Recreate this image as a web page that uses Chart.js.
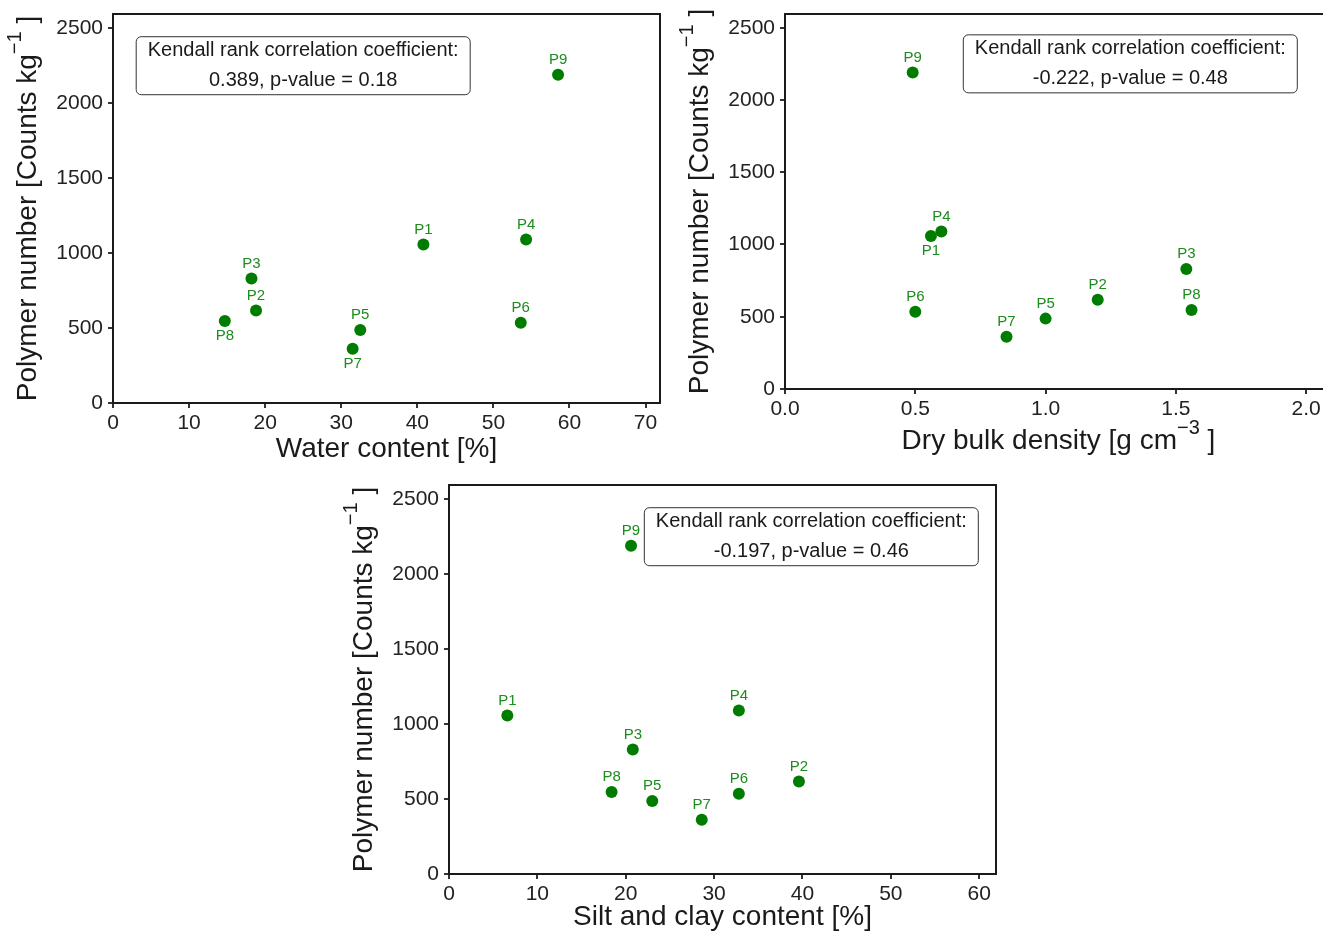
<!DOCTYPE html>
<html>
<head>
<meta charset="utf-8">
<script src="https://cdn.jsdelivr.net/npm/chart.js@4.4.1/dist/chart.umd.min.js"></script>
<style>
  html, body { margin: 0; padding: 0; background: #fff; overflow: hidden; }
  body { width: 1323px; height: 931px; position: relative; }
  .panel { position: absolute; }
</style>
</head>
<body>
<div class="panel" style="left:0;top:0"><canvas id="water" width="670" height="470"></canvas></div>
<div class="panel" style="left:672px;top:0"><canvas id="density" width="670" height="470"></canvas></div>
<div class="panel" style="left:336px;top:471px"><canvas id="silt" width="670" height="460"></canvas></div>
<script>
const sites = ['P1', 'P2', 'P3', 'P4', 'P5', 'P6', 'P7', 'P8', 'P9'];
const polymerCount = [1058, 617, 830, 1090, 487, 535, 362, 547, 2190];
const waterContent = [40.8, 18.8, 18.2, 54.3, 32.5, 53.6, 31.5, 14.7, 58.5];
const bulkDensity = [0.56, 1.20, 1.54, 0.60, 1.00, 0.50, 0.85, 1.56, 0.49];
const siltClay = [6.6, 39.6, 20.8, 32.8, 23.0, 32.8, 28.6, 18.4, 20.6];

// tick values
const yTicks = [0, 500, 1000, 1500, 2000, 2500];
const waterTicks = [0, 10, 20, 30, 40, 50, 60, 70];
const densityTicks = [0, 0.5, 1.0, 1.5, 2.0];
const siltTicks = [0, 10, 20, 30, 40, 50, 60];

// Kendall test results per panel
const kendallTau = ['0.389', '-0.222', '-0.197'];
const kendallP = ['0.18', '0.48', '0.46'];

const FONT = '"Liberation Sans", Arial, Helvetica, sans-serif';
const POINT_GREEN = '#007d00';
const LABEL_GREEN = '#1c8c1c';
const INK = '#1a1a1a';

// draw a title made of plain and superscript pieces, centred on (x, y)
function richText(ctx, parts, x, y, size) {
  const supSize = Math.round(size * 0.72);
  const widths = parts.map((p) => {
    ctx.font = `${p.sup ? supSize : size}px ${FONT}`;
    return ctx.measureText(p.t).width;
  });
  let cur = x - widths.reduce((s, w) => s + w, 0) / 2;
  ctx.textAlign = 'left';
  ctx.textBaseline = 'middle';
  parts.forEach((p, i) => {
    ctx.font = `${p.sup ? supSize : size}px ${FONT}`;
    ctx.fillText(p.t, cur, p.sup ? y - size * 0.45 : y);
    cur += widths[i];
  });
}

const panelDeco = {
  id: 'panelDeco',
  afterDatasetsDraw(chart, args, opts) {
    const { ctx, chartArea: a, scales } = chart;
    ctx.save();

    // full frame round the plot
    ctx.strokeStyle = INK;
    ctx.lineWidth = 2;
    ctx.strokeRect(a.left, a.top, a.right - a.left, a.bottom - a.top);

    // site labels
    ctx.font = `15px ${FONT}`;
    ctx.fillStyle = LABEL_GREEN;
    ctx.textAlign = 'center';
    ctx.textBaseline = 'middle';
    chart.getDatasetMeta(0).data.forEach((pt, i) => {
      const dy = opts.below.includes(sites[i]) ? 15 : -15;
      ctx.fillText(sites[i], pt.x, pt.y + dy);
    });

    // correlation box
    const cx = scales.x.getPixelForValue(opts.boxAt[0]);
    const cy = scales.y.getPixelForValue(opts.boxAt[1]);
    const w = 334, h = 58;
    ctx.beginPath();
    ctx.roundRect(cx - w / 2, cy - h / 2, w, h, 5);
    ctx.fillStyle = '#fff';
    ctx.fill();
    ctx.lineWidth = 1;
    ctx.strokeStyle = '#333';
    ctx.stroke();
    ctx.fillStyle = INK;
    ctx.font = `20px ${FONT}`;
    ctx.fillText('Kendall rank correlation coefficient:', cx, cy - 15);
    ctx.fillText(`${opts.tau}, p-value = ${opts.p}`, cx, cy + 15);

    // axis titles
    ctx.fillStyle = INK;
    richText(ctx, opts.xTitle, (a.left + a.right) / 2, a.bottom + opts.xGap, 28);
    ctx.translate(a.left - 85, (a.top + a.bottom) / 2);
    ctx.rotate(-Math.PI / 2);
    richText(ctx, [{ t: 'Polymer number [Counts kg' }, { t: '\u22121', sup: true }, { t: ' ]' }], 0, 0, 28);

    ctx.restore();
  },
};

function scatterPanel(id, xValues, cfg) {
  const points = xValues.map((x, i) => ({ x, y: polymerCount[i] }));
  const tickStyle = { color: '#222', font: { family: FONT, size: 21 } };
  const gridStyle = { drawOnChartArea: false, drawTicks: true, tickLength: 5, color: '#333', lineWidth: 2 };
  return new Chart(document.getElementById(id), {
    type: 'scatter',
    data: {
      datasets: [{
        data: points,
        backgroundColor: POINT_GREEN,
        borderWidth: 0,
        pointRadius: 6,
        pointHoverRadius: 6,
      }],
    },
    options: {
      responsive: false,
      animation: false,
      devicePixelRatio: 1,
      layout: { padding: { left: 0, top: 14, right: 10, bottom: 0 } },
      plugins: {
        legend: { display: false },
        tooltip: { enabled: false },
        panelDeco: cfg.deco,
      },
      scales: {
        x: {
          type: 'linear',
          min: 0,
          max: cfg.xMax,
          border: { display: false },
          grid: gridStyle,
          ticks: { ...tickStyle, padding: 3, maxRotation: 0, callback: cfg.xFormat },
          afterBuildTicks: (s) => { s.ticks = cfg.xTicks.map((value) => ({ value })); },
          afterFit: (s) => {
            s.height = cfg.xAxisHeight;
            s.paddingLeft = 0;
            s.paddingRight = 0;
          },
        },
        y: {
          type: 'linear',
          min: 0,
          max: 2595,
          border: { display: false },
          grid: gridStyle,
          ticks: { ...tickStyle, padding: 5, callback: (v) => String(v) },
          afterBuildTicks: (s) => { s.ticks = yTicks.map((value) => ({ value })); },
          afterFit: (s) => {
            s.width = 113;
            s.paddingTop = 0;
            s.paddingBottom = 0;
          },
        },
      },
    },
    plugins: [panelDeco],
  });
}

scatterPanel('water', waterContent, {
  xMax: 71.9, xTicks: waterTicks, xAxisHeight: 67,
  xFormat: (v) => String(v),
  deco: {
    below: ['P7', 'P8'], boxAt: [25, 2250], tau: kendallTau[0], p: kendallP[0],
    xTitle: [{ t: 'Water content [%]' }], xGap: 46,
  },
});

scatterPanel('density', bulkDensity, {
  xMax: 2.099, xTicks: densityTicks, xAxisHeight: 81,
  xFormat: (v) => v.toFixed(1),
  deco: {
    below: ['P1'], boxAt: [1.325, 2250], tau: kendallTau[1], p: kendallP[1],
    xTitle: [{ t: 'Dry bulk density [g cm' }, { t: '\u22123', sup: true }, { t: ' ]' }], xGap: 52,
  },
});

scatterPanel('silt', siltClay, {
  xMax: 61.9, xTicks: siltTicks, xAxisHeight: 57,
  xFormat: (v) => String(v),
  deco: {
    below: [], boxAt: [41, 2250], tau: kendallTau[2], p: kendallP[2],
    xTitle: [{ t: 'Silt and clay content [%]' }], xGap: 43,
  },
});
</script>
</body>
</html>
